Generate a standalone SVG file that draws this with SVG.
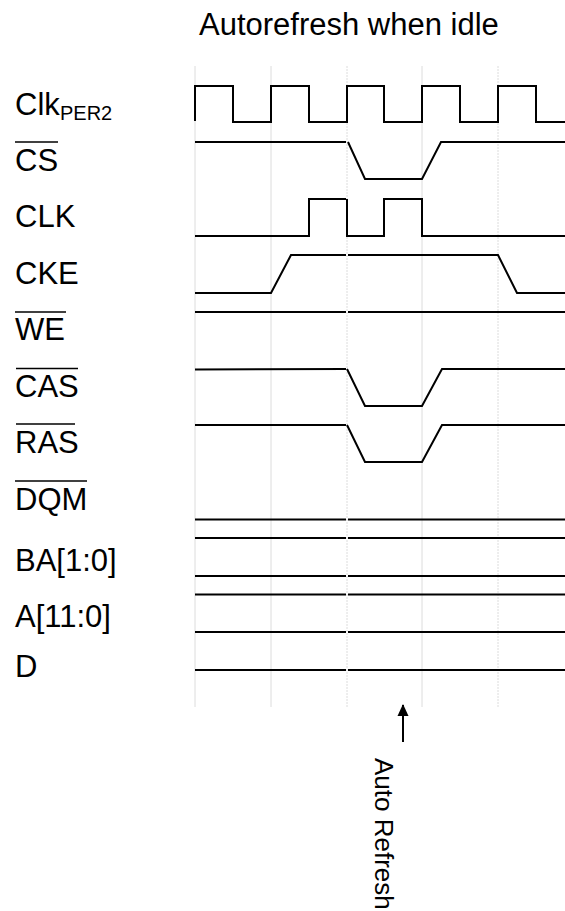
<svg xmlns="http://www.w3.org/2000/svg" width="565" height="911" viewBox="0 0 565 911">
<style>
text{font-family:"Liberation Sans",Arial,sans-serif;fill:#000}
.lbl{font-size:31px}
.sub{font-size:20px}
.ol{stroke:#000;stroke-width:1.3}
.grid{stroke:#dcdcdc;stroke-width:1}
.sig{fill:none;stroke:#000;stroke-width:2;stroke-linejoin:miter}
</style>
<defs>
<marker id="ah" markerWidth="12" markerHeight="12" refX="11" refY="6" orient="auto" markerUnits="userSpaceOnUse" viewBox="0 0 12 12">
<path d="M0,0.5 L12,6 L0,11.5 Z" fill="#000"/>
</marker>
</defs>
<rect width="565" height="911" fill="#fff"/>
<text id="title" x="199" y="35" class="lbl">Autorefresh when idle</text>
<g id="grid">
<line class="grid" x1="195" y1="66" x2="195" y2="707"/>
<line class="grid" x1="271" y1="66" x2="271" y2="707"/>
<line class="grid" x1="347" y1="66" x2="347" y2="707" stroke-dasharray="2,1"/>
<line class="grid" x1="422" y1="66" x2="422" y2="707"/>
<line class="grid" x1="498" y1="66" x2="498" y2="707" stroke-dasharray="2,1"/>
</g>
<g id="clkper2">
<text x="15" y="115" class="lbl">Clk</text><text x="60" y="120" class="sub">PER2</text>
<path class="sig" d="M195,121 V86 H233 V122 H271 V86 H309 V122 H347 V86 H384 V122 H422 V86 H460 V122 H498 V86 H536 V122 H565"/>
</g>
<g id="cs">
<text x="15" y="171" class="lbl">CS</text><line class="ol" x1="15" y1="142" x2="58" y2="142"/>
<path class="sig" d="M195,142 H346 M348,142 L365,179 H422 L441,142 H565"/>
</g>
<g id="clk">
<text x="15" y="227" class="lbl">CLK</text>
<path class="sig" d="M195,236 H309 V199 H346 M347,199 V236 H384 V199 H422 V236 H498"/>
<path class="sig" stroke-width="3" d="M498,236 H565"/>
</g>
<g id="cke">
<text x="15" y="284" class="lbl">CKE</text>
<path class="sig" d="M195,293 H271 L291,255 H346 M348,255 H498 L517,293 H565"/>
</g>
<g id="we">
<text x="15" y="340" class="lbl">WE</text><line class="ol" x1="15" y1="312" x2="66" y2="312"/>
<path class="sig" d="M195,312 H346 M348,312 H565"/>
</g>
<g id="cas">
<text x="15" y="397" class="lbl">CAS</text><line class="ol" x1="16" y1="368.5" x2="78" y2="368.5"/>
<path class="sig" d="M195,369.5 L346,369 M347,369 L365,406 H422 L442,369 H565"/>
</g>
<g id="ras">
<text x="15" y="453" class="lbl">RAS</text><line class="ol" x1="16" y1="424" x2="75" y2="424"/>
<path class="sig" d="M195,425 H346 M347,425 L365,462 H422 L442,425 H565"/>
</g>
<g id="dqm">
<text x="15" y="510" class="lbl">DQM</text><line class="ol" x1="15" y1="481" x2="87" y2="481"/>
<path class="sig" d="M195,519.5 H346 M348,519.5 H565"/>
</g>
<g id="ba">
<text x="15" y="571" class="lbl">BA[1:0]</text>
<path class="sig" d="M195,538 H346 M348,538 H565 M195,576 H346 M348,576 H565"/>
</g>
<g id="a">
<text x="15" y="627" class="lbl">A[11:0]</text>
<path class="sig" d="M195,594.5 H346 M348,594.5 H565 M195,632 H346 M348,632 H565"/>
</g>
<g id="d">
<text x="15" y="677" class="lbl">D</text>
<path class="sig" d="M195,670 H346 M348,670 H565"/>
</g>
<g id="connectors">
<line x1="403" y1="742" x2="403" y2="705" stroke="#000" stroke-width="2" marker-end="url(#ah)"/>
</g>
<text id="autorefresh" style="font-size:26px" transform="translate(375,758) rotate(90)">Auto Refresh</text>
</svg>
